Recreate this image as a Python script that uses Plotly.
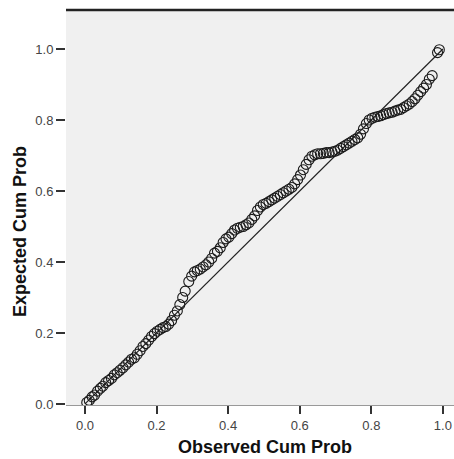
import plotly.graph_objects as go

# Observed cumulative probability (x) and expected cumulative probability (y)
observed = [0.005, 0.012, 0.020, 0.027, 0.035, 0.043, 0.050, 0.058, 0.066, 0.074,
            0.082, 0.090, 0.098, 0.106, 0.114, 0.122, 0.130, 0.138, 0.146, 0.154,
            0.162, 0.170, 0.178, 0.186, 0.194, 0.202, 0.210, 0.218, 0.226, 0.234,
            0.242, 0.250, 0.258, 0.265, 0.273, 0.280, 0.290, 0.298, 0.306, 0.314,
            0.322, 0.330, 0.338, 0.346, 0.354, 0.362, 0.370, 0.378, 0.386, 0.394,
            0.402, 0.410, 0.418, 0.426, 0.434, 0.442, 0.450, 0.458, 0.466, 0.474,
            0.482, 0.490, 0.498, 0.506, 0.514, 0.522, 0.530, 0.538, 0.546, 0.554,
            0.562, 0.570, 0.578, 0.586, 0.594, 0.602, 0.610, 0.618, 0.626, 0.634,
            0.642, 0.650, 0.658, 0.666, 0.674, 0.682, 0.690, 0.698, 0.706, 0.714,
            0.722, 0.730, 0.738, 0.746, 0.754, 0.762, 0.770, 0.778, 0.786, 0.794,
            0.802, 0.810, 0.818, 0.826, 0.834, 0.842, 0.850, 0.858, 0.866, 0.874,
            0.882, 0.890, 0.898, 0.906, 0.914, 0.922, 0.930, 0.938, 0.946, 0.954,
            0.962, 0.970, 0.985, 0.990]
expected = [0.004, 0.010, 0.020, 0.025, 0.036, 0.044, 0.050, 0.060, 0.066, 0.072,
            0.082, 0.088, 0.095, 0.102, 0.110, 0.118, 0.126, 0.130, 0.140, 0.150,
            0.162, 0.170, 0.180, 0.190, 0.198, 0.205, 0.210, 0.215, 0.218, 0.225,
            0.235, 0.250, 0.262, 0.280, 0.300, 0.318, 0.345, 0.360, 0.372, 0.376,
            0.380, 0.386, 0.392, 0.400, 0.410, 0.425, 0.430, 0.440, 0.455, 0.465,
            0.470, 0.480, 0.490, 0.495, 0.498, 0.500, 0.505, 0.510, 0.520, 0.530,
            0.545, 0.555, 0.562, 0.565, 0.570, 0.575, 0.580, 0.585, 0.590, 0.595,
            0.600, 0.605, 0.610, 0.620, 0.632, 0.645, 0.660, 0.675, 0.688, 0.698,
            0.702, 0.705, 0.705, 0.706, 0.708, 0.708, 0.710, 0.712, 0.715, 0.720,
            0.725, 0.730, 0.735, 0.740, 0.745, 0.750, 0.760, 0.775, 0.790, 0.800,
            0.805, 0.808, 0.810, 0.812, 0.815, 0.818, 0.820, 0.822, 0.825, 0.828,
            0.830, 0.835, 0.840, 0.845, 0.852, 0.860, 0.870, 0.880, 0.890, 0.900,
            0.915, 0.925, 0.990, 0.998]

ref_line = [0.0, 1.0]
tick_vals = [0.0, 0.2, 0.4, 0.6, 0.8, 1.0]
tick_text = ["0.0", "0.2", "0.4", "0.6", "0.8", "1.0"]

W, H = 454, 459
L, T, B = 66, 10, 54
PW, PH = W - L, H - T - B

fig = go.Figure()
fig.add_trace(go.Scatter(x=ref_line, y=ref_line, mode="lines",
                         line=dict(color="#222222", width=1.2),
                         hoverinfo="skip", showlegend=False))
fig.add_trace(go.Scatter(x=observed, y=expected, mode="markers",
                         marker=dict(symbol="circle-open", size=10,
                                     color="#1a1a1a", line=dict(width=1.1)),
                         showlegend=False))

fig.update_layout(
    width=W, height=H,
    margin=dict(l=L, r=0, t=T, b=B, pad=0),
    paper_bgcolor="white", plot_bgcolor="#f0f0f0",
    font=dict(family="Liberation Sans, Arial, sans-serif", color="#333333"),
    xaxis=dict(range=[-0.053, 1.031], tickvals=tick_vals, ticktext=tick_text,
               ticks="outside", ticklen=8, tickwidth=1.5, tickcolor="#333333",
               showgrid=False, zeroline=False, showline=True,
               linecolor="#999999", linewidth=1,
               tickfont=dict(size=13, color="#444444")),
    yaxis=dict(range=[-0.003, 1.11], tickvals=tick_vals, ticktext=tick_text,
               ticks="outside", ticklen=9, tickwidth=1.5, tickcolor="#333333",
               showgrid=False, zeroline=False, showline=False,
               tickfont=dict(size=13, color="#444444")),
    shapes=[dict(type="line", xref="paper", yref="paper", x0=0, x1=1, y0=1, y1=1,
                 line=dict(color="#222222", width=2.5))],
    annotations=[
        dict(text="<b>Observed Cum Prob</b>", xref="paper", yref="paper",
             x=(265 - L) / PW, y=-(447 - (T + PH)) / PH, showarrow=False,
             xanchor="center", yanchor="middle",
             font=dict(size=18, color="#111111")),
        dict(text="<b>Expected Cum Prob</b>", xref="paper", yref="paper",
             x=-(L - 20) / PW, y=((T + PH) - 232) / PH, showarrow=False,
             textangle=-90, xanchor="center", yanchor="middle",
             font=dict(size=18, color="#111111")),
    ],
)

fig.write_html(
    "out.html",
    config={"displayModeBar": False},
    post_script="document.body.style.margin='0';document.body.style.overflow='hidden';",
)
